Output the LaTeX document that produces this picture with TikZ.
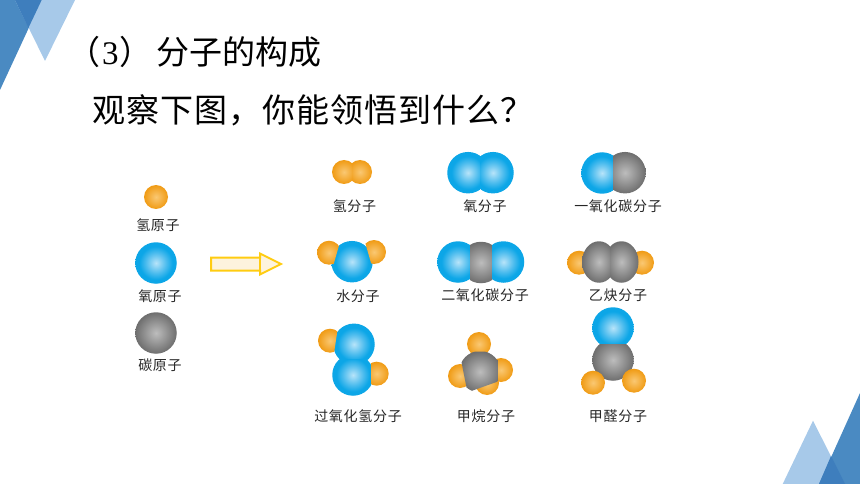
\documentclass[tikz,border=0pt]{standalone}
\usepackage{fontspec}
\usetikzlibrary{shapes.geometric}
\newfontfamily\cjk{Noto Sans CJK SC}
\newfontfamily\cjkwide[LetterSpace=3]{Noto Sans CJK SC}
\newfontfamily\cjklabel[LetterSpace=5]{Noto Sans CJK SC}
\newfontfamily\digitfont{Liberation Serif}
\definecolor{hin}{HTML}{FAC873}
\definecolor{hout}{HTML}{F09B14}
\definecolor{oin}{HTML}{B8E4F9}
\definecolor{omid}{HTML}{4FBDEE}
\definecolor{oout}{HTML}{0CA6E7}
\definecolor{cin}{HTML}{BDBDBD}
\definecolor{cout}{HTML}{6E6E6E}
\pgfdeclareradialshading{hball}{\pgfpoint{0bp}{0bp}}{color(0bp)=(hin); color(25bp)=(hout); color(50bp)=(hout)}
\pgfdeclareradialshading{oball}{\pgfpoint{0bp}{0bp}}{color(0bp)=(oin); color(12bp)=(omid); color(20bp)=(oout); color(50bp)=(oout)}
\pgfdeclareradialshading{cball}{\pgfpoint{0bp}{0bp}}{color(0bp)=(cin); color(25bp)=(cout); color(50bp)=(cout)}

\begin{document}
\begin{tikzpicture}[x=1pt,y=-1pt]
%define
\tikzstyle{hatom} = [circle, inner sep=0pt, minimum size=24pt, shade, shading=hball]
\tikzstyle{oatom} = [circle, inner sep=0pt, minimum size=41.5pt, shade, shading=oball]
\tikzstyle{catom} = [circle, inner sep=0pt, minimum size=41.5pt, shade, shading=cball]
\tikzstyle{clobe} = [ellipse, inner sep=0pt, minimum width=34pt, minimum height=41.5pt, shade, shading=cball]
\tikzstyle{label} = [font=\cjklabel\fontsize{14}{16}\selectfont, text=black!85, inner sep=0pt]
\tikzstyle{heading} = [font=\cjk\fontsize{33}{36}\selectfont, text=black, anchor=west, inner sep=0pt]
\tikzstyle{medtri} = [fill={rgb,255:red,74;green,138;blue,194}]
\tikzstyle{lighttri} = [fill={rgb,255:red,167;green,201;blue,233}]
\tikzstyle{darktri} = [fill={rgb,255:red,62;green,126;blue,189}]

\useasboundingbox (0,0) rectangle (860,484);

%corners
\fill[medtri](0,0)--(41.7,0)--(0,90)--cycle;
\fill[lighttri](15,0)--(75,0)--(45,61)--cycle;
\fill[darktri](15,0)--(41.7,0)--(28.4,28)--cycle;
\fill[lighttri](813,420.7)--(845,484)--(782.7,484)--cycle;
\fill[medtri](860,393)--(860,484)--(819,484)--cycle;
\fill[darktri](831,456)--(845,484)--(819,484)--cycle;

%title
\node[heading](title) at (67,52){（\kern2pt\digitfont 3\kern1pt\cjk）\kern4pt 分子的构成};
\node[heading, font=\cjkwide\fontsize{33}{36}\selectfont](question) at (92,110){观察下图，你能领悟到什么？};

%atoms
\node[hatom](hone) at (156,197){};
\node[label](honelabel) at (158,225){氢原子};
\node[oatom](oone) at (156,263){};
\node[label](oonelabel) at (160,296){氧原子};
\node[catom](cone) at (156,333){};
\node[label](conelabel) at (160,365){碳原子};

%arrow
\draw[line width=2pt, draw={rgb,255:red,255;green,204;blue,17}, fill={rgb,255:red,253;green,243;blue,221}]
  (211,257.5)--(260,257.5)--(260,253.5)--(281,264)--(260,274.5)--(260,270.5)--(211,270.5)--cycle;
\draw[line width=2pt, draw={rgb,255:red,255;green,204;blue,17}](260,257.5)--(260,270.5);

%hydrogen
\begin{scope}
\clip(320,150)rectangle(352,195);
\node[hatom](hh1) at (344,172){};
\end{scope}
\begin{scope}
\clip(352,150)rectangle(385,195);
\node[hatom](hh2) at (360,172){};
\end{scope}
\node[label](hhlabel) at (354.5,206){氢分子};

%oxygen
\begin{scope}
\clip(440,145)rectangle(480.5,200);
\node[oatom](oo1) at (468,172.7){};
\end{scope}
\begin{scope}
\clip(480.5,145)rectangle(520,200);
\node[oatom](oo2) at (493,172.7){};
\end{scope}
\node[label](oolabel) at (485,206.7){氧分子};

%carbon monoxide
\begin{scope}
\clip(570,145)rectangle(613,200);
\node[oatom](coo) at (602,173){};
\end{scope}
\begin{scope}
\clip(613,145)rectangle(655,200);
\node[catom](coc) at (625,172.7){};
\end{scope}
\node[label](colabel) at (618,206.7){一氧化碳分子};

%water
\node[oatom](woo) at (352,261.7){};
\begin{scope}
\clip(343.4,230)--(330,277)--(300,277)--(300,230)--cycle;
\node[hatom](wh1) at (329,252.7){};
\end{scope}
\begin{scope}
\clip(361.6,230)--(375,277)--(400,277)--(400,230)--cycle;
\node[hatom](wh2) at (374,252){};
\end{scope}
\node[label](wlabel) at (358,296.7){水分子};

%carbon dioxide
\begin{scope}
\clip(430,235)rectangle(470,290);
\node[oatom](cco1) at (458,262){};
\end{scope}
\begin{scope}
\clip(470,235)rectangle(492.7,290);
\node[catom](ccc) at (481,262.5){};
\end{scope}
\begin{scope}
\clip(492.7,235)rectangle(530,290);
\node[oatom](cco2) at (503.5,262){};
\end{scope}
\node[label](cclabel) at (485,295.7){二氧化碳分子};

%acetylene
\node[hatom](ah1) at (579,262.7){};
\node[hatom](ah2) at (642,262.7){};
\begin{scope}
\clip(575,235)rectangle(610,290);
\node[clobe](ac1) at (599,262){};
\end{scope}
\begin{scope}
\clip(610,235)rectangle(645,290);
\node[clobe](ac2) at (621.5,262){};
\end{scope}
\node[label](alabel) at (618,295.7){乙炔分子};

%peroxide
\begin{scope}
\clip(300,320)rectangle(400,359.7);
\node[oatom](po1) at (354,344.3){};
\end{scope}
\begin{scope}
\clip(300,359.7)rectangle(400,400);
\node[oatom](po2) at (353,375){};
\end{scope}
\begin{scope}
\clip(339,320)--(333,360)--(310,360)--(310,320)--cycle;
\node[hatom](ph1) at (330,340.7){};
\end{scope}
\begin{scope}
\clip(371.7,355)rectangle(395,395);
\node[hatom](ph2) at (376.7,373.7){};
\end{scope}
\node[label](plabel) at (358,416){过氧化氢分子};

%methane
\node[hatom](mh1) at (479,344){};
\node[hatom](mh2) at (460,376){};
\node[hatom](mh3) at (501,370){};
\node[hatom](mh4) at (487,383){};
\begin{scope}
\clip(459.4,351.7)--(497.3,351.7)--(497.3,381.7)--(467.5,392.4)--cycle;
\node[catom](mcc) at (480,371.7){};
\end{scope}
\node[label](mlabel) at (486,416){甲烷分子};

%formaldehyde
\begin{scope}
\clip(580,300)rectangle(645,344);
\node[oatom](foo) at (613,328){};
\end{scope}
\begin{scope}
\clip(580,344)rectangle(645,390);
\node[catom](fcc) at (613,360){};
\end{scope}
\node[hatom](fh1) at (593,382.7){};
\node[hatom](fh2) at (634,380.7){};
\node[label](flabel) at (618,416){甲醛分子};

\end{tikzpicture}
\end{document}
